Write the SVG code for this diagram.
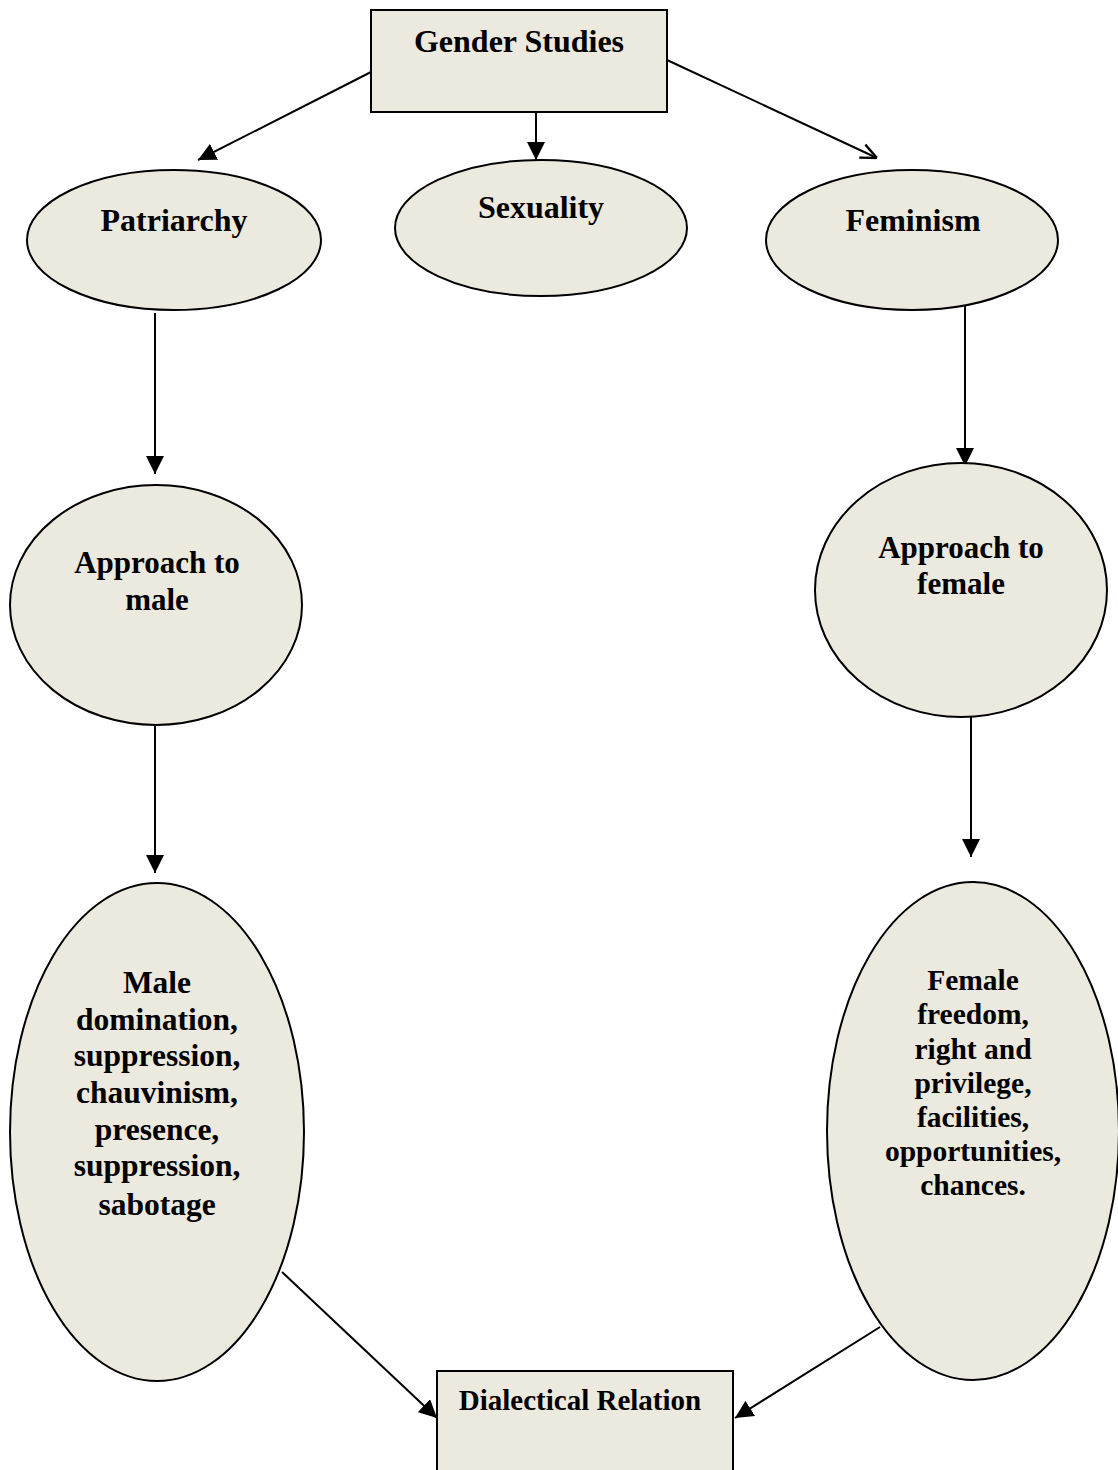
<svg xmlns="http://www.w3.org/2000/svg" width="1118" height="1470" viewBox="0 0 1118 1470">
<style>
.n{fill:#ECE9DF;stroke:#000;stroke-width:2}
.t{font-family:"Liberation Serif","Times New Roman",serif;font-weight:bold;fill:#000;text-anchor:middle}
.c{stroke:#000;stroke-width:2;fill:none}
</style>
<defs>
<marker id="a2" viewBox="0 0 10 10" refX="10" refY="5" markerWidth="18" markerHeight="18" markerUnits="userSpaceOnUse" orient="auto">
<path d="M0,0L10,5L0,10Z" fill="#000"/>
</marker>
<marker id="o" viewBox="0 0 10 10" refX="10" refY="5" markerWidth="18" markerHeight="18" markerUnits="userSpaceOnUse" orient="auto">
<path d="M1,1L10,5L1,9" fill="none" stroke="#000" stroke-width="1.3"/>
</marker>
</defs>
<g id="connectors">
<line class="c" x1="371" y1="72" x2="198" y2="160" marker-end="url(#a2)"/>
<line class="c" x1="536" y1="112" x2="536" y2="160" marker-end="url(#a2)"/>
<line class="c" x1="667" y1="60" x2="877" y2="158" marker-end="url(#o)"/>
<line class="c" x1="155" y1="313" x2="155" y2="474" marker-end="url(#a2)"/>
<line class="c" x1="965" y1="305" x2="965" y2="466" marker-end="url(#a2)"/>
<line class="c" x1="155" y1="712" x2="155" y2="873" marker-end="url(#a2)"/>
<line class="c" x1="971" y1="696" x2="971" y2="857" marker-end="url(#a2)"/>
<line class="c" x1="282" y1="1272" x2="437" y2="1418" marker-end="url(#a2)"/>
<line class="c" x1="880" y1="1327" x2="735" y2="1418" marker-end="url(#a2)"/>
</g>
<g id="gender-studies">
<rect class="n" x="371" y="10" width="296" height="102"/>
<text class="t" x="519" y="52" font-size="32">Gender Studies</text>
</g>
<g id="patriarchy">
<ellipse class="n" cx="174" cy="240" rx="147" ry="70"/>
<text class="t" x="174" y="231" font-size="32">Patriarchy</text>
</g>
<g id="sexuality">
<ellipse class="n" cx="541" cy="228" rx="146" ry="68"/>
<text class="t" x="541" y="218" font-size="32">Sexuality</text>
</g>
<g id="feminism">
<ellipse class="n" cx="912" cy="240" rx="146" ry="70"/>
<text class="t" x="913" y="231" font-size="32">Feminism</text>
</g>
<g id="approach-male">
<ellipse class="n" cx="156" cy="605" rx="146" ry="120"/>
<text class="t" font-size="31"><tspan x="157" y="573">Approach to</tspan><tspan x="157" y="610">male</tspan></text>
</g>
<g id="approach-female">
<ellipse class="n" cx="961" cy="590" rx="146" ry="127"/>
<text class="t" font-size="31"><tspan x="961" y="558">Approach to</tspan><tspan x="961" y="594">female</tspan></text>
</g>
<g id="male-list">
<ellipse class="n" cx="157" cy="1132" rx="147" ry="249"/>
<text class="t" font-size="31.5"><tspan x="157" y="993">Male</tspan><tspan x="157" y="1030">domination,</tspan><tspan x="157" y="1066">suppression,</tspan><tspan x="157" y="1103">chauvinism,</tspan><tspan x="157" y="1140">presence,</tspan><tspan x="157" y="1176">suppression,</tspan><tspan x="157" y="1215">sabotage</tspan></text>
</g>
<g id="female-list">
<ellipse class="n" cx="973" cy="1131" rx="146" ry="249"/>
<text class="t" font-size="29.5"><tspan x="973" y="990">Female</tspan><tspan x="973" y="1024">freedom,</tspan><tspan x="973" y="1059">right and</tspan><tspan x="973" y="1093">privilege,</tspan><tspan x="973" y="1127">facilities,</tspan><tspan x="973" y="1161">opportunities,</tspan><tspan x="973" y="1195">chances.</tspan></text>
</g>
<g id="dialectical-relation">
<rect class="n" x="437" y="1371" width="296" height="110"/>
<text class="t" x="580" y="1410" font-size="29">Dialectical Relation</text>
</g>
</svg>
